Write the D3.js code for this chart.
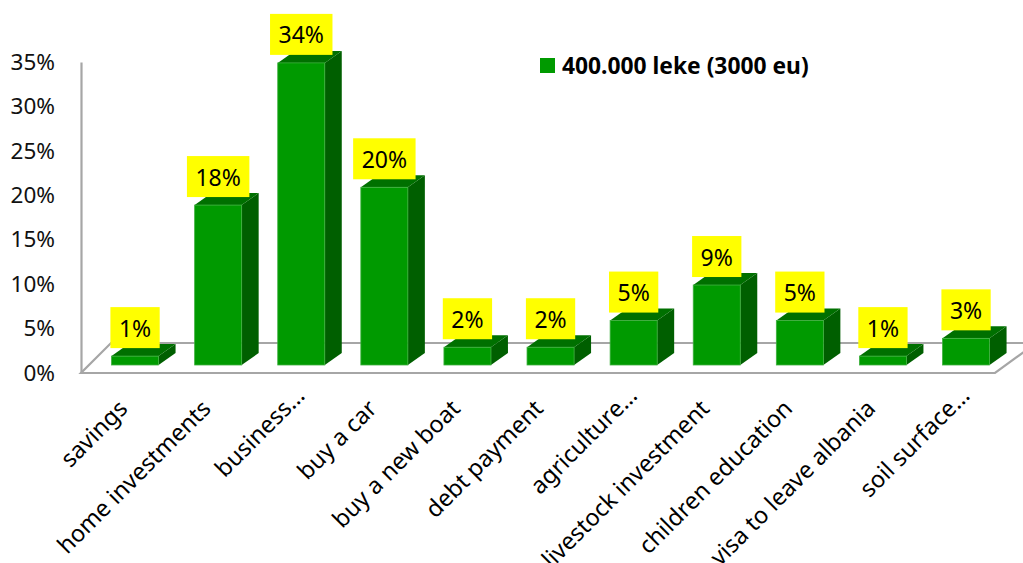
<!DOCTYPE html>
<html>
<head>
<meta charset="utf-8">
<script src="https://cdn.jsdelivr.net/npm/d3@7"></script>
<style>
  html, body { margin: 0; padding: 0; background: #ffffff; }
  svg { display: block; font-family: "Noto Sans", "Open Sans", sans-serif; }
</style>
</head>
<body>
<svg id="chart" width="1023" height="563"></svg>
<script>
// Survey: how a 400.000 leke (3000 eu) sum would be used
const categories = [
  "savings", "home investments", "business\u2026", "buy a car", "buy a new boat",
  "debt payment", "agriculture\u2026", "livestock investment", "children education",
  "visa to leave albania", "soil surface\u2026"
];
const values = [0.01, 0.18, 0.34, 0.20, 0.02, 0.02, 0.05, 0.09, 0.05, 0.01, 0.03];
const yTicks = [0, 0.05, 0.10, 0.15, 0.20, 0.25, 0.30, 0.35];
const seriesName = "400.000 leke (3000 eu)";

const svg = d3.select("#chart");

// plot frame (front edge of the floor and the value axis)
const floorFront = 373, floorBack = 343;
const axisX = 81;
const y = d3.scaleLinear().domain([0, 0.35]).range([floorFront, 62]);
const x = d3.scaleBand().domain(categories).range([93.5, 1007.6])
  .paddingInner(0.434).paddingOuter(0.217);

// bars stand slightly behind the front edge of the floor
const barLift = 8;          // front plane of the bars, measured up from the floor front
const depthX = 17, depthY = -12;  // extrusion of each bar
const colFront = "#009a00", colTop = "#007000", colSide = "#005f00";
const gridGrey = "#a6a6a6";

// floor outline (drawn first so the bars cover its back edge)
const floor = [
  [axisX, floorFront], [995, floorFront], [1036, floorBack], [axisX + 30, floorBack]
];
svg.append("path")
  .attr("d", d3.line()(floor) + "Z")
  .attr("fill", "none")
  .attr("stroke", gridGrey)
  .attr("stroke-width", 2.2);

// value axis
const yAxis = d3.axisLeft(y)
  .tickValues(yTicks)
  .tickFormat(d3.format(".0%"))
  .tickSize(0)
  .tickPadding(26);
const gy = svg.append("g").attr("transform", `translate(${axisX},0)`).call(yAxis);
gy.select(".domain").attr("stroke", gridGrey).attr("stroke-width", 2.2);
gy.selectAll(".tick text")
  .attr("fill", "#111")
  .style("font-size", "22.5px")
  .style("font-family", "'Noto Sans', sans-serif");

// 3D bars
const bars = svg.append("g");
categories.forEach((c, i) => {
  const v = values[i];
  const x0 = x(c), x1 = x(c) + x.bandwidth();
  const yb = y(0) - barLift, yt = y(v) - barLift;
  const g = bars.append("g");
  // side face
  g.append("path")
    .attr("d", d3.line()([[x1, yb], [x1 + depthX, yb + depthY], [x1 + depthX, yt + depthY], [x1, yt]]) + "Z")
    .attr("fill", colSide);
  // top face
  g.append("path")
    .attr("d", d3.line()([[x0, yt], [x0 + depthX, yt + depthY], [x1 + depthX, yt + depthY], [x1, yt]]) + "Z")
    .attr("fill", colTop);
  // front face
  g.append("rect")
    .attr("x", x0).attr("y", yt)
    .attr("width", x1 - x0).attr("height", yb - yt)
    .attr("fill", colFront)
    .attr("stroke", "#3fb03f")
    .attr("stroke-width", 0.8);
});

// data labels in yellow boxes above each bar
const labels = svg.append("g");
categories.forEach((c, i) => {
  const v = values[i];
  const cx = x(c) + x.bandwidth() / 2;
  const boxBottom = y(v) - barLift - 8;
  const boxH = 41;
  const g = labels.append("g");
  const rect = g.append("rect").attr("fill", "#ffff00");
  const t = g.append("text")
    .attr("x", cx)
    .attr("y", boxBottom - boxH / 2)
    .attr("text-anchor", "middle")
    .attr("dominant-baseline", "central")
    .attr("fill", "#000")
    .style("font-size", "23px")
    .text(d3.format(".0%")(v));
  const w = t.node().getComputedTextLength() + 17;
  rect.attr("x", cx - w / 2).attr("y", boxBottom - boxH)
    .attr("width", w).attr("height", boxH);
});

// category labels, rotated 45 degrees and ending under each bar
const xl = svg.append("g");
categories.forEach((c) => {
  const cx = x(c) + x.bandwidth() / 2;
  const truncated = c.endsWith("\u2026");
  const px = truncated ? cx + 5 : cx - 6;
  const py = truncated ? 397 : 410;
  xl.append("text")
    .attr("transform", `translate(${px},${py}) rotate(-45)`)
    .attr("text-anchor", "end")
    .attr("fill", "#000")
    .style("font-size", "23.5px")
    .text(c);
});

// legend
const lg = svg.append("g");
lg.append("rect").attr("x", 540).attr("y", 58).attr("width", 15).attr("height", 15).attr("fill", colFront);
lg.append("text")
  .attr("x", 562).attr("y", 65.5)
  .attr("dominant-baseline", "central")
  .attr("fill", "#000")
  .style("font-size", "22.8px")
  .style("font-weight", "bold")
  .text(seriesName);
</script>
</body>
</html>
